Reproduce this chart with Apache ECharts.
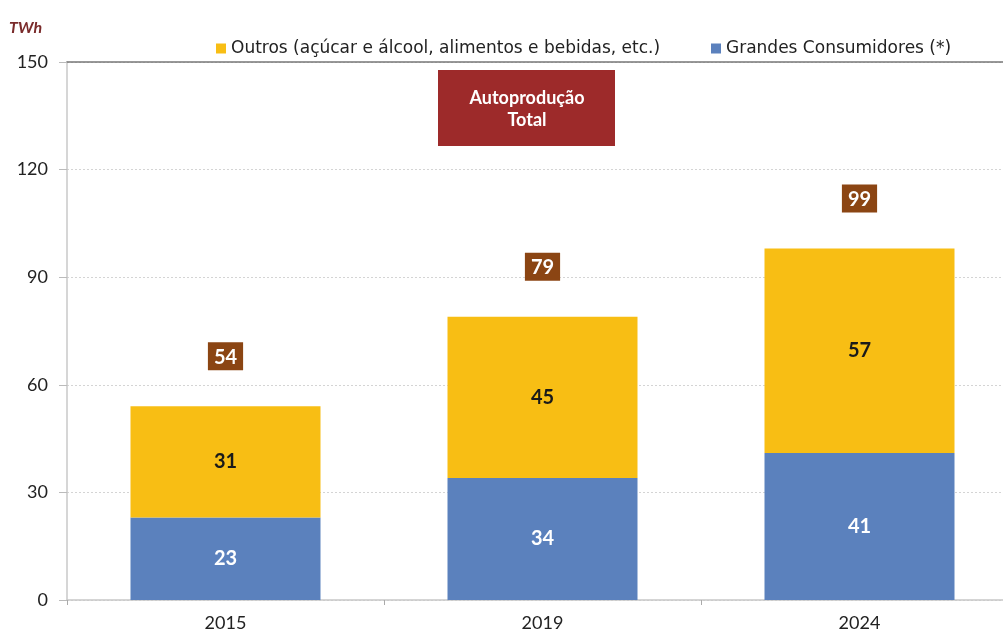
<!DOCTYPE html>
<html><head><meta charset="utf-8">
<script src="https://cdn.jsdelivr.net/npm/echarts@6/dist/echarts.min.js"></script>
<style>html,body{margin:0;padding:0;background:#fff;overflow:hidden;width:1003px;height:637px}#c{width:1020px;height:637px}</style>
</head><body><div id="c"></div>
<script>
const categories = ['2015', '2019', '2024'];
const grandes = [23, 34, 41];
const outros = [31, 45, 57];
const totals = [54, 79, 99];
const yTicks = [0, 30, 60, 90, 120, 150];
const seriesNames = ['Outros (açúcar e álcool, alimentos e bebidas, etc.)', 'Grandes Consumidores (*)'];

const NUM = 'Lato, "Open Sans", sans-serif';
const WIDE = '"DejaVu Sans", sans-serif';
const chart = echarts.init(document.getElementById('c'), null, {renderer: 'canvas'});
chart.setOption({
  animation: false,
  textStyle: {fontFamily: NUM},
  grid: {left: 67, top: 62, bottom: 37, right: 2, containLabel: false},
  legend: [{
    data: [seriesNames[0]],
    left: 211, top: 35,
    icon: 'rect', itemWidth: 10, itemHeight: 10, itemGap: 6,
    textStyle: {fontSize: 17, color: '#222', fontFamily: WIDE}
  }, {
    data: [seriesNames[1]],
    left: 706, top: 35,
    icon: 'rect', itemWidth: 10, itemHeight: 10, itemGap: 6,
    textStyle: {fontSize: 17, color: '#222', fontFamily: WIDE}
  }],
  xAxis: [{
    type: 'category', data: categories,
    axisLine: {lineStyle: {color: '#c8c8c8', width: 1.5}},
    axisTick: {show: true, length: 5, lineStyle: {color: '#aaa'}},
    axisLabel: {fontSize: 18, color: '#222', margin: 14, fontFamily: NUM}
  }, {
    type: 'category', data: categories, position: 'top',
    axisLine: {show: true, lineStyle: {color: '#777', width: 1.5}},
    axisTick: {show: false}, axisLabel: {show: false}
  }],
  yAxis: {
    type: 'value', min: yTicks[0], max: yTicks[yTicks.length - 1], interval: 30,
    axisLine: {show: true, lineStyle: {color: '#c8c8c8', width: 1.5}},
    axisTick: {show: true, length: 8, lineStyle: {color: '#bbb'}},
    axisLabel: {fontSize: 18, color: '#222', margin: 19, fontFamily: NUM},
    splitLine: {show: true, lineStyle: {color: '#d4d4d4', type: [2, 2], width: 1}}
  },
  series: [{
    name: seriesNames[1], type: 'bar', stack: 't', barWidth: 190, data: grandes,
    itemStyle: {color: '#5b81bd'},
    label: {show: true, position: 'inside', color: '#fff', fontWeight: 'bold', fontSize: 20, fontFamily: NUM}
  }, {
    name: seriesNames[0], type: 'bar', stack: 't', barWidth: 190, data: outros,
    itemStyle: {color: '#f8be14'},
    label: {show: true, position: 'inside', color: '#1a1a1a', fontWeight: 'bold', fontSize: 20, fontFamily: NUM}
  }, {
    name: 'total', type: 'bar', stack: 't', barWidth: 190, data: totals.map(() => 0),
    itemStyle: {color: 'transparent'},
    label: {
      show: true, position: 'top', distance: 36,
      formatter: p => totals[p.dataIndex],
      backgroundColor: '#8b4513', color: '#fff', fontWeight: 'bold', fontSize: 20,
      padding: [5, 6, 3, 6], fontFamily: NUM
    }
  }],
  graphic: [{
    type: 'rect', left: 438, top: 70, shape: {width: 177, height: 76},
    style: {fill: '#9d2a2a'}
  }, {
    type: 'text', x: 527, y: 87,
    style: {text: 'Autoprodução\nTotal', fill: '#fff', font: 'bold 18px ' + NUM, align: 'center', textAlign: 'center', lineHeight: 22}
  }, {
    type: 'text', left: 9, top: 20,
    style: {text: 'TWh', fill: '#7a2b2b', font: 'italic bold 16px ' + NUM}
  }]
});
</script></body></html>
